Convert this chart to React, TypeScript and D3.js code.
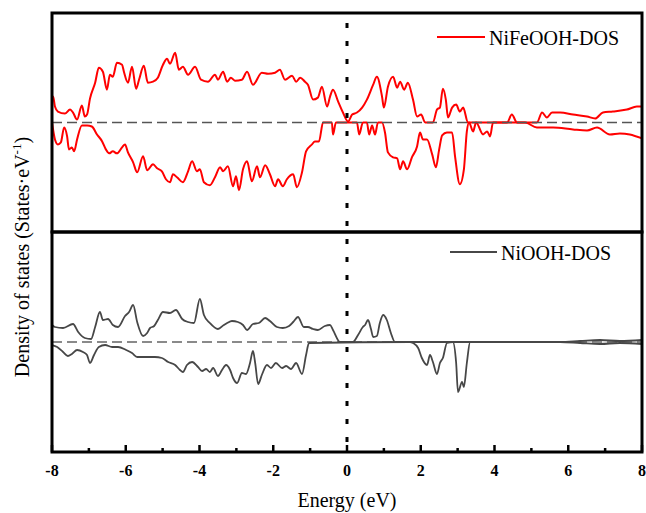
import { useEffect, useRef } from "react";
import * as d3 from "d3";

// [energy (eV), DOS]; spin-up positive, spin-down negative
const nifeUp: [number, number][] = [
  [-8.0, 2.3], [-7.97, 2.6], [-7.92, 1.6], [-7.84, 1.1], [-7.65, 0.9], [-7.51, 1.3], [-7.43, 1.0],
  [-7.32, 0.3], [-7.19, 1.7], [-7.11, 0.6], [-7.05, 0.8], [-6.97, 2.4], [-6.83, 4.0], [-6.73, 5.5],
  [-6.62, 5.1], [-6.51, 3.3], [-6.43, 4.8], [-6.35, 4.6], [-6.24, 6.0], [-6.1, 5.8], [-6.05, 5.1],
  [-5.94, 4.0], [-5.83, 5.6], [-5.72, 3.4], [-5.64, 4.3], [-5.51, 5.7], [-5.4, 4.0], [-5.26, 4.1],
  [-5.13, 4.5], [-4.99, 5.8], [-4.88, 6.4], [-4.8, 5.9], [-4.66, 7.0], [-4.56, 5.3], [-4.45, 5.6],
  [-4.31, 4.8], [-4.12, 5.6], [-3.96, 4.3], [-3.77, 4.1], [-3.58, 4.8], [-3.5, 4.3], [-3.36, 5.1],
  [-3.25, 4.1], [-3.15, 4.5], [-3.04, 4.2], [-2.85, 4.3], [-2.71, 5.1], [-2.55, 3.8], [-2.31, 5.0],
  [-2.14, 4.9], [-1.95, 5.0], [-1.82, 5.3], [-1.68, 4.3], [-1.49, 4.7], [-1.38, 4.1], [-1.27, 4.5],
  [-1.14, 4.1], [-1.06, 3.8], [-0.92, 2.3], [-0.79, 2.5], [-0.68, 3.6], [-0.54, 1.6], [-0.46, 2.6],
  [-0.38, 3.3], [-0.24, 2.1], [-0.11, 1.0], [0.03, 0.1], [0.14, 0.8], [0.27, 1.0], [0.41, 1.5],
  [0.54, 2.3], [0.71, 3.8], [0.81, 4.6], [0.95, 2.6], [1.0, 1.5], [1.11, 3.6], [1.25, 4.6],
  [1.36, 3.5], [1.44, 4.1], [1.55, 3.3], [1.65, 4.0], [1.79, 2.3], [1.9, 0.6], [2.01, 0.8],
  [2.12, 0], [2.33, 0], [2.44, 1.3], [2.52, 1.5], [2.6, 3.4], [2.68, 2.3], [2.74, 0.5], [2.85, 1.5],
  [2.96, 1.8], [3.06, 1.1], [3.15, 1.5], [3.28, 0], [4.34, 0], [4.47, 0.8], [4.61, 0], [5.15, 0],
  [5.29, 1.0], [5.42, 0.5], [5.56, 1.0], [5.78, 1.0], [6.13, 0.8], [6.51, 0.6], [6.73, 0.4],
  [6.94, 1.0], [7.21, 1.1], [7.59, 1.3], [7.86, 1.6], [8.0, 1.6],
];

const nifeDown: [number, number][] = [
  [-8.0, 0], [-7.92, -1.7], [-7.84, -2.2], [-7.76, -2.0], [-7.67, -0.5], [-7.59, -1.4], [-7.54, -2.7],
  [-7.46, -2.5], [-7.4, -2.9], [-7.32, -1.7], [-7.19, -0.3], [-7.05, -0.3], [-6.92, -0.4], [-6.78, -1.2],
  [-6.64, -1.9], [-6.54, -2.7], [-6.45, -3.1], [-6.35, -2.9], [-6.24, -3.1], [-6.1, -2.5], [-6.02, -2.2],
  [-5.94, -3.0], [-5.8, -4.0], [-5.69, -5.0], [-5.53, -3.4], [-5.42, -4.8], [-5.26, -4.2], [-5.15, -4.6],
  [-5.02, -4.9], [-4.91, -5.7], [-4.8, -6.0], [-4.72, -5.2], [-4.61, -5.5], [-4.45, -6.0], [-4.31, -4.9],
  [-4.2, -3.9], [-4.07, -4.9], [-3.99, -4.7], [-3.88, -6.0], [-3.72, -6.3], [-3.58, -5.5], [-3.44, -4.5],
  [-3.36, -4.9], [-3.23, -4.4], [-3.09, -6.4], [-3.01, -5.4], [-2.93, -6.8], [-2.82, -4.7], [-2.71, -3.9],
  [-2.58, -5.9], [-2.44, -4.4], [-2.36, -5.5], [-2.22, -4.3], [-2.09, -5.2], [-1.95, -6.4], [-1.87, -5.7],
  [-1.74, -6.4], [-1.63, -5.7], [-1.46, -5.2], [-1.36, -6.5], [-1.22, -5.0], [-1.11, -2.9], [-0.95, -2.2],
  [-0.87, -1.9], [-0.76, -1.9], [-0.65, 0], [-0.41, 0], [-0.38, -1.2], [-0.3, 0], [0.27, 0], [0.33, -1.2],
  [0.43, 0], [0.54, 0], [0.6, -1.2], [0.68, -0.3], [0.76, -1.2], [0.84, 0], [0.95, 0], [1.03, -1.0],
  [1.11, -3.0], [1.25, -3.5], [1.36, -3.6], [1.44, -4.7], [1.52, -3.9], [1.63, -4.7], [1.76, -3.5],
  [1.9, -2.4], [1.98, -1.0], [2.06, -1.7], [2.17, -1.7], [2.31, -3.2], [2.41, -4.5], [2.5, -2.7],
  [2.58, -1.3], [2.71, -1.0], [2.85, -1.0], [2.93, -3.4], [3.06, -6.2], [3.17, -4.7], [3.25, -0.9],
  [3.31, 0], [3.42, -0.9], [3.5, 0], [3.69, -1.2], [3.8, -0.9], [3.88, -1.4], [3.96, 0], [4.83, 0],
  [5.15, -0.5], [5.59, -0.5], [6.13, -0.7], [6.51, -0.8], [6.78, -0.5], [7.13, -1.2], [7.4, -1.1],
  [7.67, -1.2], [8.0, -1.6],
];

const niUp: [number, number][] = [
  [-8.0, 1.7], [-7.92, 1.5], [-7.7, 1.4], [-7.43, 1.8], [-7.29, 1.0], [-7.11, 0.4], [-6.94, 0.3],
  [-6.83, 1.5], [-6.7, 3.0], [-6.62, 2.2], [-6.48, 2.3], [-6.35, 1.7], [-6.21, 1.5], [-6.02, 2.6],
  [-5.91, 3.0], [-5.8, 3.7], [-5.69, 2.0], [-5.53, 0.6], [-5.42, 0.9], [-5.34, 1.4], [-5.23, 1.6],
  [-5.13, 2.2], [-4.99, 3.0], [-4.8, 2.9], [-4.64, 3.2], [-4.47, 2.3], [-4.31, 2.0], [-4.15, 1.9],
  [-3.99, 4.3], [-3.88, 2.7], [-3.72, 1.9], [-3.5, 1.3], [-3.34, 1.7], [-3.25, 1.9], [-3.12, 2.1],
  [-2.96, 2.0], [-2.82, 1.7], [-2.71, 1.2], [-2.55, 1.8], [-2.39, 1.9], [-2.22, 2.4], [-2.09, 2.1],
  [-1.9, 1.5], [-1.74, 1.4], [-1.57, 1.6], [-1.46, 2.0], [-1.33, 2.5], [-1.17, 1.5], [-1.06, 1.5],
  [-0.92, 1.3], [-0.79, 1.2], [-0.6, 1.6], [-0.46, 1.7], [-0.38, 1.2], [-0.19, 0], [0.16, 0],
  [0.3, 0.7], [0.43, 1.5], [0.49, 1.7], [0.57, 2.2], [0.65, 1.3], [0.71, 0.5], [0.81, 0.6],
  [0.89, 1.9], [0.98, 2.7], [1.08, 2.2], [1.19, 0.9], [1.3, 0], [5.78, 0], [6.32, 0.1], [6.86, 0.2],
  [7.4, 0.1], [8.0, 0.2],
];

const niDown: [number, number][] = [
  [-8.0, -0.3], [-7.86, -0.5], [-7.7, -1.0], [-7.57, -1.4], [-7.46, -1.2], [-7.32, -0.8], [-7.16, -1.0],
  [-7.05, -1.3], [-6.97, -2.1], [-6.86, -1.3], [-6.73, -0.5], [-6.56, -0.3], [-6.37, -0.5], [-6.21, -0.5],
  [-5.99, -0.8], [-5.83, -1.1], [-5.69, -1.5], [-5.53, -1.5], [-5.37, -1.5], [-5.21, -1.5], [-5.02, -1.6],
  [-4.85, -2.0], [-4.66, -2.3], [-4.53, -2.8], [-4.45, -3.0], [-4.34, -2.3], [-4.2, -2.0], [-4.04, -2.5],
  [-3.93, -2.9], [-3.82, -2.7], [-3.72, -3.0], [-3.63, -2.6], [-3.5, -3.4], [-3.39, -2.8], [-3.28, -2.3],
  [-3.17, -2.8], [-3.09, -3.6], [-2.98, -4.1], [-2.85, -3.1], [-2.74, -3.2], [-2.63, -2.1], [-2.55, -0.9],
  [-2.49, -2.1], [-2.41, -4.2], [-2.31, -3.3], [-2.17, -2.3], [-2.06, -2.6], [-1.93, -2.1], [-1.76, -2.6],
  [-1.65, -2.4], [-1.52, -2.7], [-1.38, -2.1], [-1.22, -3.2], [-1.11, -1.3], [-1.03, -0.1], [1.71, 0],
  [1.79, -0.1], [1.93, -0.6], [2.03, -1.6], [2.17, -2.3], [2.25, -1.3], [2.33, -2.0], [2.44, -3.2],
  [2.52, -2.1], [2.6, -1.6], [2.71, -0.1], [2.87, 0], [2.96, -2.1], [3.01, -5.0], [3.12, -4.0],
  [3.17, -4.5], [3.25, -2.1], [3.34, 0], [5.78, 0], [6.32, -0.1], [6.86, -0.2], [7.4, -0.1], [8.0, -0.2],
];

const xTicks = [-8, -6, -4, -2, 0, 2, 4, 6, 8];
const xMinor = [-7, -5, -3, -1, 1, 3, 5, 7];

const FONT = '"Times New Roman", "Liberation Serif", serif';

export default function App() {
  const svgRef = useRef<SVGSVGElement>(null);

  useEffect(() => {
    document.body.style.margin = "0";
    const el = svgRef.current;
    if (!el) return;
    d3.select(el).selectAll("*").remove();

    const L = 52, R = 642, T = 13, M = 232, B = 452;
    const xs = d3.scaleLinear().domain([-8, 8]).range([L, R]);
    const yTop = d3.scaleLinear().domain([-11, 11]).range([M, T]);
    const yBot = d3.scaleLinear().domain([-11, 11]).range([B, M]);

    const svg = d3.select(el);

    const defs = svg.append("defs");
    defs.append("clipPath").attr("id", "clipTop")
      .append("rect").attr("x", L).attr("y", T).attr("width", R - L).attr("height", M - T);
    defs.append("clipPath").attr("id", "clipBot")
      .append("rect").attr("x", L).attr("y", M).attr("width", R - L).attr("height", B - M);

    const mkLine = (ys: d3.ScaleLinear<number, number>) =>
      d3.line<[number, number]>()
        .x((d) => xs(d[0]))
        .y((d) => ys(d[1]))
        .curve(d3.curveMonotoneX);

    // top panel
    const gTop = svg.append("g").attr("clip-path", "url(#clipTop)");
    [nifeUp, nifeDown].forEach((s) => {
      gTop.append("path").datum(s)
        .attr("fill", "none")
        .attr("stroke", "#ff0000")
        .attr("stroke-width", 2)
        .attr("stroke-linejoin", "round")
        .attr("d", mkLine(yTop));
    });
    gTop.append("line")
      .attr("x1", L).attr("x2", R)
      .attr("y1", yTop(0)).attr("y2", yTop(0))
      .attr("stroke", "#555")
      .attr("stroke-width", 1.6)
      .attr("stroke-dasharray", "10 5");

    // bottom panel
    const gBot = svg.append("g").attr("clip-path", "url(#clipBot)");
    gBot.append("line")
      .attr("x1", L).attr("x2", R)
      .attr("y1", yBot(0)).attr("y2", yBot(0))
      .attr("stroke", "#8a8a8a")
      .attr("stroke-width", 2)
      .attr("stroke-dasharray", "10 5");
    [niUp, niDown].forEach((s) => {
      gBot.append("path").datum(s)
        .attr("fill", "none")
        .attr("stroke", "#474747")
        .attr("stroke-width", 1.8)
        .attr("stroke-linejoin", "round")
        .attr("d", mkLine(yBot));
    });

    // Fermi level
    svg.append("line")
      .attr("x1", xs(0)).attr("x2", xs(0))
      .attr("y1", T + 10).attr("y2", B)
      .attr("stroke", "#000")
      .attr("stroke-width", 3)
      .attr("stroke-dasharray", "5 13");

    // frames
    [[T, M], [M, B]].forEach(([y0, y1]) => {
      svg.append("rect")
        .attr("x", L).attr("y", y0)
        .attr("width", R - L).attr("height", y1 - y0)
        .attr("fill", "none")
        .attr("stroke", "#000")
        .attr("stroke-width", 3);
    });

    // x ticks (inward)
    svg.selectAll(".maj").data(xTicks).enter().append("line")
      .attr("x1", (d) => xs(d)).attr("x2", (d) => xs(d))
      .attr("y1", B).attr("y2", B - 7)
      .attr("stroke", "#000").attr("stroke-width", 2.5);
    svg.selectAll(".min").data(xMinor).enter().append("line")
      .attr("x1", (d) => xs(d)).attr("x2", (d) => xs(d))
      .attr("y1", B).attr("y2", B - 4)
      .attr("stroke", "#000").attr("stroke-width", 2.5);
    svg.selectAll(".tl").data(xTicks).enter().append("text")
      .attr("x", (d) => xs(d))
      .attr("y", 476)
      .attr("text-anchor", "middle")
      .style("font-family", FONT)
      .style("font-size", "16px")
      .style("font-weight", "bold")
      .text((d) => String(d));

    // axis labels
    svg.append("text")
      .attr("x", xs(0)).attr("y", 507)
      .attr("text-anchor", "middle")
      .style("font-family", FONT)
      .style("font-size", "20px")
      .text("Energy (eV)");

    const yl = svg.append("text")
      .attr("transform", "translate(29,257) rotate(-90)")
      .attr("text-anchor", "middle")
      .style("font-family", FONT)
      .style("font-size", "20px");
    yl.append("tspan").text("Density of states (States·eV");
    yl.append("tspan").attr("dy", -8).style("font-size", "13px").text("-1");
    yl.append("tspan").attr("dy", 8).text(")");

    // legends
    const legends: [string, string, number, number, number][] = [
      ["NiFeOOH-DOS", "#ff0000", 437, 485, 45],
      ["NiOOH-DOS", "#474747", 450, 497, 260],
    ];
    legends.forEach(([label, color, x0, x1, base]) => {
      svg.append("line")
        .attr("x1", x0).attr("x2", x1)
        .attr("y1", base - 8).attr("y2", base - 8)
        .attr("stroke", color).attr("stroke-width", 1.8);
      svg.append("text")
        .attr("x", x1 + 4).attr("y", base)
        .style("font-family", FONT)
        .style("font-size", "20px")
        .text(label);
    });
  }, []);

  return <svg ref={svgRef} width={646} height={513} style={{ display: "block", background: "#fff" }} />;
}
